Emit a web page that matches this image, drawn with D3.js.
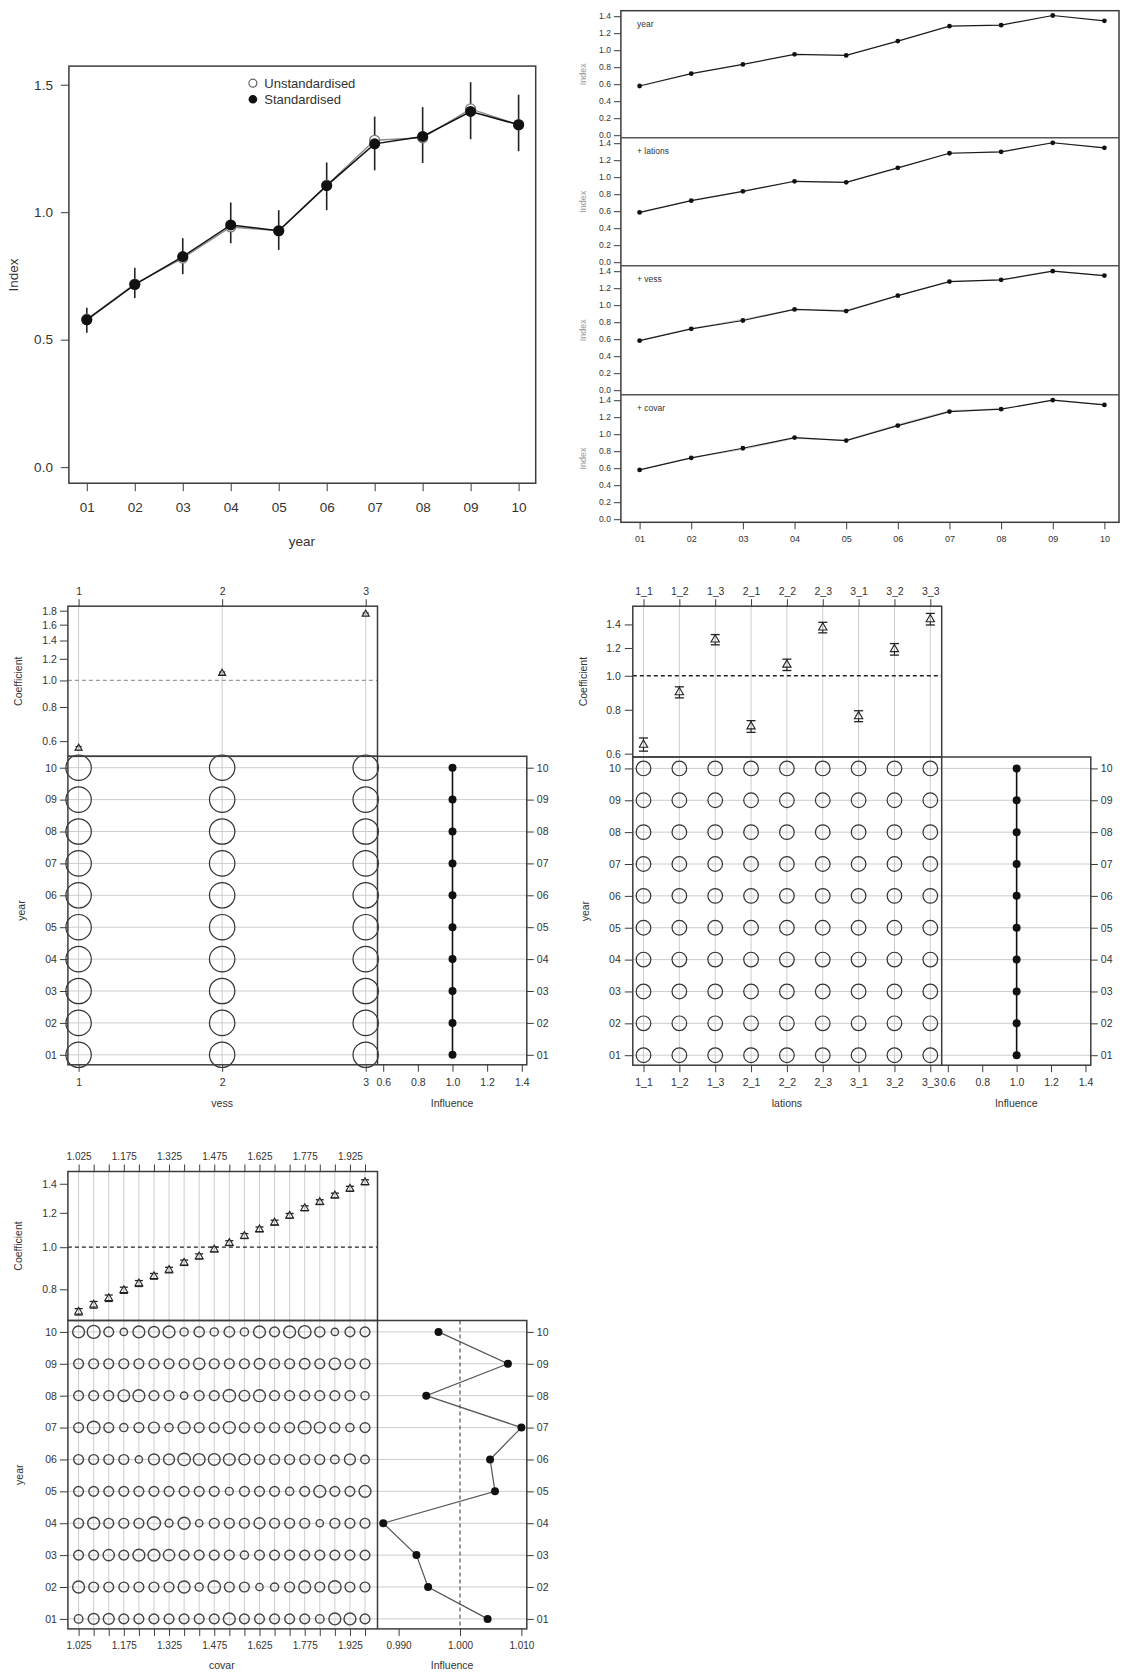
<!DOCTYPE html>
<html><head><meta charset="utf-8">
<script src="https://cdn.jsdelivr.net/npm/d3@7"></script>
<style>
body{margin:0;background:#fff}
svg{display:block}
</style>
</head><body><svg id="c" width="1122" height="1676"></svg>
<script>
// ---------------- DATA ----------------
const years = ["01","02","03","04","05","06","07","08","09","10"];
const indexStandardised   = [0.578,0.716,0.826,0.950,0.927,1.104,1.268,1.297,1.395,1.343];
const indexUnstandardised = [0.580,0.718,0.820,0.942,0.927,1.106,1.282,1.292,1.405,1.343];
const ciLower = [0.527,0.663,0.757,0.878,0.852,1.008,1.164,1.193,1.286,1.239];
const ciUpper = [0.625,0.782,0.898,1.038,1.008,1.195,1.375,1.412,1.510,1.461];
const mainTicks = [0,0.5,1.0,1.5];
const legendLabels = ["Unstandardised","Standardised"];

const stepLabels = ["year","+ lations","+ vess","+ covar"];
const stepYear    = [0.579,0.724,0.833,0.951,0.939,1.107,1.283,1.295,1.408,1.346];
const stepLations = [0.586,0.724,0.834,0.952,0.940,1.110,1.282,1.299,1.405,1.346];
const stepVess    = [0.583,0.722,0.820,0.950,0.931,1.112,1.278,1.298,1.400,1.349];
const stepCovar   = [0.580,0.721,0.835,0.960,0.925,1.101,1.266,1.294,1.400,1.345];
const stepTicks = [0,0.2,0.4,0.6,0.8,1.0,1.2,1.4];

const vessLevels = ["1","2","3"];
const vessCoef  = [0.565,1.062,1.748];
const vessLower = [0.558,1.052,1.730];
const vessUpper = [0.573,1.073,1.766];
const vessShare = [
  [33.3,33.3,33.3],[33.3,33.3,33.3],[33.3,33.3,33.3],[33.3,33.3,33.3],[33.3,33.3,33.3],
  [33.3,33.3,33.3],[33.3,33.3,33.3],[33.3,33.3,33.3],[33.3,33.3,33.3],[33.3,33.3,33.3]];
const vessInfluence = [1.0,1.0,1.0,1.0,1.0,1.0,1.0,1.0,1.0,1.0];
const vessCoefTicks = [0.6,0.8,1.0,1.2,1.4,1.6,1.8];

const lationsLevels = ["1_1","1_2","1_3","2_1","2_2","2_3","3_1","3_2","3_3"];
const lationsCoef  = [0.636,0.897,1.268,0.717,1.075,1.372,0.766,1.190,1.448];
const lationsLower = [0.610,0.865,1.225,0.690,1.035,1.325,0.740,1.145,1.395];
const lationsUpper = [0.665,0.930,1.310,0.745,1.115,1.420,0.795,1.235,1.505];
const lationsShare = [
  [11.1,11.1,11.1,11.1,11.1,11.1,11.1,11.1,11.1],[11.1,11.1,11.1,11.1,11.1,11.1,11.1,11.1,11.1],
  [11.1,11.1,11.1,11.1,11.1,11.1,11.1,11.1,11.1],[11.1,11.1,11.1,11.1,11.1,11.1,11.1,11.1,11.1],
  [11.1,11.1,11.1,11.1,11.1,11.1,11.1,11.1,11.1],[11.1,11.1,11.1,11.1,11.1,11.1,11.1,11.1,11.1],
  [11.1,11.1,11.1,11.1,11.1,11.1,11.1,11.1,11.1],[11.1,11.1,11.1,11.1,11.1,11.1,11.1,11.1,11.1],
  [11.1,11.1,11.1,11.1,11.1,11.1,11.1,11.1,11.1],[11.1,11.1,11.1,11.1,11.1,11.1,11.1,11.1,11.1]];
const lationsInfluence = [1.0,1.0,1.0,1.0,1.0,1.0,1.0,1.0,1.0,1.0];
const lationsCoefTicks = [0.6,0.8,1.0,1.2,1.4];

const covarLevels = ["1.025","1.075","1.125","1.175","1.225","1.275","1.325","1.375","1.425","1.475",
                     "1.525","1.575","1.625","1.675","1.725","1.775","1.825","1.875","1.925","1.975"];
const covarLabelled = ["1.025","1.175","1.325","1.475","1.625","1.775","1.925"];
const covarCoef  = [0.710,0.737,0.763,0.796,0.825,0.857,0.886,0.921,0.952,0.988,1.022,1.061,1.099,1.139,1.181,1.229,1.270,1.315,1.363,1.411];
const covarLower = [0.698,0.724,0.750,0.783,0.812,0.844,0.873,0.908,0.939,0.975,1.009,1.047,1.085,1.124,1.166,1.213,1.254,1.298,1.345,1.392];
const covarUpper = [0.722,0.750,0.776,0.809,0.838,0.870,0.899,0.934,0.965,1.001,1.035,1.075,1.113,1.154,1.196,1.245,1.286,1.332,1.381,1.430];
const covarShare = [
  [3.3,5.4,5.4,4.3,4.3,4.3,4.3,4.3,4.3,4.3,6.4,4.3,4.3,4.3,4.3,4.3,3.3,6.4,6.4,4.3],
  [6.4,4.3,4.3,4.3,4.3,4.3,4.3,6.4,3.0,7.0,4.3,4.3,2.4,3.0,4.3,6.4,4.3,7.0,4.3,4.3],
  [4.3,4.3,5.8,4.3,6.4,6.4,5.8,4.3,4.3,4.3,4.3,3.0,4.3,4.3,4.3,4.3,4.3,4.3,4.3,4.3],
  [4.3,6.4,4.3,4.3,4.3,7.6,2.8,6.4,2.4,4.3,4.3,4.3,5.4,4.3,4.3,4.3,2.4,4.3,4.3,4.3],
  [4.3,4.3,4.3,4.3,4.3,4.3,4.3,4.3,4.3,4.3,2.8,4.3,4.3,4.3,3.0,4.3,6.4,4.3,4.3,6.4],
  [4.3,4.3,4.3,4.3,2.4,5.4,5.4,7.0,6.2,6.2,6.2,5.4,4.3,4.3,4.3,4.3,4.3,3.3,5.4,3.3],
  [4.3,7.2,4.3,3.0,4.3,5.4,3.0,6.4,4.3,4.3,6.4,4.3,4.3,4.3,4.3,7.2,5.4,4.3,3.0,4.3],
  [4.3,4.3,4.3,6.0,6.4,4.3,4.3,2.4,4.3,4.3,7.0,5.0,6.4,4.3,4.3,4.3,4.3,4.3,4.3,3.0],
  [4.3,4.3,4.3,4.3,4.3,4.3,4.3,4.3,5.8,4.3,4.3,4.3,5.0,4.3,4.3,5.0,4.3,5.8,4.3,4.3],
  [6.4,7.6,4.3,2.4,6.4,5.4,6.4,3.0,4.8,3.0,5.0,3.0,6.4,4.3,6.4,7.2,4.6,2.4,4.3,4.3]];
const covarInfluence = [1.0045,0.9948,0.9929,0.9875,1.0057,1.0049,1.0100,0.9945,1.0078,0.9965];
const covarCoefTicks = [0.8,1.0,1.2,1.4];
const unitInfluenceTicks = [0.6,0.8,1.0,1.2,1.4];
const covarInfluenceTicks = [0.990,1.000,1.010];

// ---------------- DRAWING ----------------
const FONT = '"Liberation Sans", Arial, Helvetica, sans-serif';
const INK = "#333";
const BOX = "#3c3c3c";
const GRID = "#cdcdcd";
const svg = d3.select("#c");

function styleAxis(g, fs, col){
  g.select(".domain").remove();
  g.selectAll(".tick line").attr("stroke", BOX).attr("stroke-width", 1);
  g.selectAll(".tick text").attr("fill", col || INK).attr("font-size", fs).attr("font-family", FONT);
  return g;
}
function label(txt, x, y, fs, opts = {}){
  const t = svg.append("text").text(txt)
    .attr("font-family", FONT).attr("font-size", fs).attr("fill", opts.fill || INK)
    .attr("text-anchor", opts.anchor || "middle");
  if (opts.rotate) t.attr("transform", `translate(${x},${y}) rotate(-90)`).attr("dy", "0.35em");
  else t.attr("x", x).attr("y", y).attr("dy", "0.35em");
  return t;
}
function rectBox(x0, y0, x1, y1, w){
  svg.append("rect").attr("x", x0).attr("y", y0).attr("width", x1 - x0).attr("height", y1 - y0)
    .attr("fill", "none").attr("stroke", BOX).attr("stroke-width", w || 1.5);
}

// ===== Panel A : standardised index =====
(function(){
  const L = 68.9, R = 535.7, T = 66.1, B = 483.2;
  const x = d3.scalePoint().domain(years).range([86.8, 518.6]);
  const y = d3.scaleLinear().domain([-0.063, 1.573]).range([B, T]);
  const g = svg.append("g");
  g.selectAll("line.ci").data(years).join("line")
    .attr("x1", d => x(d)).attr("x2", d => x(d))
    .attr("y1", (d,i) => y(ciLower[i])).attr("y2", (d,i) => y(ciUpper[i]))
    .attr("stroke", "#222").attr("stroke-width", 1.6);
  const line = d3.line().x((d,i) => x(years[i])).y(d => y(d));
  g.append("path").datum(indexUnstandardised).attr("d", line)
    .attr("fill", "none").attr("stroke", "#8c8c8c").attr("stroke-width", 1.4);
  g.selectAll("circle.u").data(indexUnstandardised).join("circle")
    .attr("cx", (d,i) => x(years[i])).attr("cy", d => y(d)).attr("r", 5)
    .attr("fill", "#fff").attr("stroke", "#7a7a7a").attr("stroke-width", 1.3);
  g.append("path").datum(indexStandardised).attr("d", line)
    .attr("fill", "none").attr("stroke", "#111").attr("stroke-width", 1.5);
  g.selectAll("circle.s").data(indexStandardised).join("circle")
    .attr("cx", (d,i) => x(years[i])).attr("cy", d => y(d)).attr("r", 5.5)
    .attr("fill", "#111");
  rectBox(L, T, R, B, 1.5);
  styleAxis(svg.append("g").attr("transform", `translate(${L},0)`)
    .call(d3.axisLeft(y).tickValues(mainTicks).tickFormat(d3.format(".1f")).tickSize(8).tickPadding(8)), 13.5);
  styleAxis(svg.append("g").attr("transform", `translate(0,${B})`)
    .call(d3.axisBottom(x).tickSize(8).tickPadding(11)), 13.5);
  label("year", 301.8, 541, 13.5);
  label("Index", 13.6, 275, 13.5, {rotate: true});
  svg.append("circle").attr("cx", 252.9).attr("cy", 83.2).attr("r", 4).attr("fill", "#fff").attr("stroke", "#666").attr("stroke-width", 1.2);
  svg.append("circle").attr("cx", 252.9).attr("cy", 99.3).attr("r", 4.3).attr("fill", "#111");
  label(legendLabels[0], 264.3, 83.2, 13, {anchor: "start"});
  label(legendLabels[1], 264.3, 99.3, 13, {anchor: "start"});
})();

// ===== Panel B : step plot =====
(function(){
  const L = 620.9, R = 1119;
  const tops = [10.7, 137.7, 265.7, 394.7];
  const bottoms = [137.7, 265.7, 394.7, 522.3];
  const series = [stepYear, stepLations, stepVess, stepCovar];
  const x = d3.scalePoint().domain(years).range([639.6, 1104.4]);
  series.forEach((s, k) => {
    const t = tops[k];
    const y = d3.scaleLinear().domain([0, 1.4]).range([t + 124.5, t + 5.5]);
    const line = d3.line().x((d,i) => x(years[i])).y(d => y(d));
    if (k > 0) {
      svg.append("path").datum(series[k-1]).attr("d", line)
        .attr("fill", "none").attr("stroke", "#d8d8d8").attr("stroke-width", 1.2);
    }
    svg.append("path").datum(s).attr("d", line)
      .attr("fill", "none").attr("stroke", "#1a1a1a").attr("stroke-width", 1.2);
    svg.selectAll(null).data(s).join("circle")
      .attr("cx", (d,i) => x(years[i])).attr("cy", d => y(d)).attr("r", 2.4).attr("fill", "#111");
    styleAxis(svg.append("g").attr("transform", `translate(${L},0)`)
      .call(d3.axisLeft(y).tickValues(stepTicks).tickFormat(d3.format(".1f")).tickSize(7).tickPadding(3)), 8.5);
    label("Index", 583.3, (t + bottoms[k]) / 2, 9, {rotate: true, fill: "#999"});
    label(stepLabels[k], 637, t + 13, 8.5, {anchor: "start"});
  });
  rectBox(L, tops[0], R, bottoms[3], 1.5);
  [1,2,3].forEach(k => svg.append("line").attr("x1", L).attr("x2", R)
    .attr("y1", tops[k]).attr("y2", tops[k]).attr("stroke", "#555").attr("stroke-width", 1.4));
  styleAxis(svg.append("g").attr("transform", `translate(0,${bottoms[3]})`)
    .call(d3.axisBottom(x).tickSize(7).tickPadding(6)), 9);
})();

// ===== CDI panels =====
function cdi(cfg){
  const x = d3.scalePoint().domain(cfg.levels).range(cfg.xRange);
  const yc = d3.scaleLog().domain(cfg.coefDomain).range([cfg.split, cfg.top]);
  const yr = d3.scalePoint().domain(years).range([cfg.bottom - 10, cfg.split + 11.4]);
  const xi = d3.scaleLinear().domain(cfg.inflDomain).range([cfg.mid, cfg.right]);
  const rs = d3.scaleSqrt().domain([0, 100]).range([0, cfg.rMax]);
  const g = svg.append("g");

  g.selectAll("line.v").data(cfg.levels).join("line")
    .attr("x1", d => x(d)).attr("x2", d => x(d)).attr("y1", cfg.top).attr("y2", cfg.bottom)
    .attr("stroke", GRID).attr("stroke-width", 1);
  g.selectAll("line.h").data(years).join("line")
    .attr("x1", cfg.left).attr("x2", cfg.right).attr("y1", d => yr(d)).attr("y2", d => yr(d))
    .attr("stroke", GRID).attr("stroke-width", 1);
  g.append("line").attr("x1", cfg.left).attr("x2", cfg.mid).attr("y1", yc(1)).attr("y2", yc(1))
    .attr("stroke", cfg.refColor).attr("stroke-width", 1.3).attr("stroke-dasharray", "4,3");

  cfg.levels.forEach((lv, i) => {
    const cx = x(lv);
    g.append("line").attr("x1", cx).attr("x2", cx).attr("y1", yc(cfg.lower[i])).attr("y2", yc(cfg.upper[i]))
      .attr("stroke", "#222").attr("stroke-width", 1.1);
    [cfg.lower[i], cfg.upper[i]].forEach(v => g.append("line")
      .attr("x1", cx - cfg.cap).attr("x2", cx + cfg.cap).attr("y1", yc(v)).attr("y2", yc(v))
      .attr("stroke", "#222").attr("stroke-width", 1.3));
    g.append("path").attr("d", d3.symbol(d3.symbolTriangle, cfg.tri)())
      .attr("transform", `translate(${cx},${yc(cfg.coef[i])})`)
      .attr("fill", "#fff").attr("fill-opacity", 0.6).attr("stroke", "#222").attr("stroke-width", 1.1);
  });

  cfg.share.forEach((row, yi) => {
    row.forEach((p, li) => {
      g.append("circle").attr("cx", x(cfg.levels[li])).attr("cy", yr(years[yi])).attr("r", rs(p))
        .attr("fill", "none").attr("stroke", cfg.bubbleStroke).attr("stroke-width", cfg.bubbleWidth);
    });
  });

  g.append("line").attr("x1", xi(1)).attr("x2", xi(1)).attr("y1", cfg.split).attr("y2", cfg.bottom)
    .attr("stroke", cfg.inflRefColor).attr("stroke-width", 1.1).attr("stroke-dasharray", cfg.inflRefDash);
  const iline = d3.line().x(d => xi(d)).y((d,i) => yr(years[i]));
  g.append("path").datum(cfg.influence).attr("d", iline)
    .attr("fill", "none").attr("stroke", cfg.inflLineColor).attr("stroke-width", cfg.inflLineWidth);
  g.selectAll("circle.inf").data(cfg.influence).join("circle")
    .attr("cx", d => xi(d)).attr("cy", (d,i) => yr(years[i])).attr("r", 4).attr("fill", "#111");

  rectBox(cfg.left, cfg.top, cfg.mid, cfg.split, 1.5);
  rectBox(cfg.left, cfg.split, cfg.right, cfg.bottom, 1.5);
  svg.append("line").attr("x1", cfg.mid).attr("x2", cfg.mid).attr("y1", cfg.split).attr("y2", cfg.bottom)
    .attr("stroke", BOX).attr("stroke-width", 1.5);

  const fmtCat = d => (cfg.labelled ? (cfg.labelled.includes(d) ? d : "") : d);
  styleAxis(svg.append("g").attr("transform", `translate(0,${cfg.top})`)
    .call(d3.axisTop(x).tickSize(7).tickPadding(4.5).tickFormat(fmtCat)), cfg.catFont);
  styleAxis(svg.append("g").attr("transform", `translate(0,${cfg.bottom})`)
    .call(d3.axisBottom(x).tickSize(7).tickPadding(6.5).tickFormat(fmtCat)), cfg.catFont);
  styleAxis(svg.append("g").attr("transform", `translate(${cfg.left},0)`)
    .call(d3.axisLeft(yc).tickValues(cfg.coefTicks).tickFormat(d3.format(".1f")).tickSize(8).tickPadding(cfg.leftPad)), 10.5);
  styleAxis(svg.append("g").attr("transform", `translate(${cfg.left},0)`)
    .call(d3.axisLeft(yr).tickSize(8).tickPadding(cfg.leftPad)), 10.5);
  styleAxis(svg.append("g").attr("transform", `translate(${cfg.right},0)`)
    .call(d3.axisRight(yr).tickSize(7).tickPadding(3)), 10.5);
  styleAxis(svg.append("g").attr("transform", `translate(0,${cfg.bottom})`)
    .call(d3.axisBottom(xi).tickValues(cfg.inflTicks).tickFormat(d3.format(cfg.inflFmt)).tickSize(7).tickPadding(6.5)), cfg.catFont);

  label("Coefficient", cfg.coefLabelX, (cfg.top + cfg.split) / 2, 10.5, {rotate: true});
  label("year", cfg.yearLabelX, (cfg.split + cfg.bottom) / 2, 10.5, {rotate: true});
  label(cfg.name, (cfg.xRange[0] + cfg.xRange[1]) / 2, cfg.titleY, 10.5);
  label("Influence", (cfg.mid + cfg.right) / 2, cfg.titleY, 10.5);
}

cdi({
  name: "vess", levels: vessLevels, coef: vessCoef, lower: vessLower, upper: vessUpper,
  share: vessShare, influence: vessInfluence,
  left: 67.9, mid: 377.5, right: 526.8, top: 606.2, split: 756.3, bottom: 1064.8,
  xRange: [78.6, 365.7], coefDomain: [0.528, 1.869], coefTicks: vessCoefTicks,
  inflDomain: [0.567, 1.429], inflTicks: unitInfluenceTicks, inflFmt: ".1f",
  refColor: "#9a9a9a", inflRefColor: "none", inflRefDash: null,
  inflLineColor: "#111", inflLineWidth: 1.6, cap: 3, tri: 22, catFont: 10.5,
  rMax: 22, bubbleStroke: "#333", bubbleWidth: 1.2,
  leftPad: 3, coefLabelX: 17.9, yearLabelX: 21.4, titleY: 1103
});

cdi({
  name: "lations", levels: lationsLevels, coef: lationsCoef, lower: lationsLower, upper: lationsUpper,
  share: lationsShare, influence: lationsInfluence,
  left: 632.8, mid: 941.7, right: 1090.8, top: 606.2, split: 757, bottom: 1065.2,
  xRange: [643.5, 930.3], coefDomain: [0.587, 1.578], coefTicks: lationsCoefTicks,
  inflDomain: [0.5645, 1.431], inflTicks: unitInfluenceTicks, inflFmt: ".1f",
  refColor: "#222", inflRefColor: "none", inflRefDash: null,
  inflLineColor: "#111", inflLineWidth: 1.6, cap: 4.5, tri: 30, catFont: 10.5,
  rMax: 22, bubbleStroke: "#333", bubbleWidth: 1.2,
  leftPad: 4, coefLabelX: 583.3, yearLabelX: 585.1, titleY: 1103
});

cdi({
  name: "covar", levels: covarLevels, labelled: covarLabelled, coef: covarCoef, lower: covarLower, upper: covarUpper,
  share: covarShare, influence: covarInfluence,
  left: 67.9, mid: 377.5, right: 526.8, top: 1171.5, split: 1320.5, bottom: 1628.9,
  xRange: [78.6, 365.0], coefDomain: [0.678, 1.494], coefTicks: covarCoefTicks,
  inflDomain: [0.98656, 1.01088], inflTicks: covarInfluenceTicks, inflFmt: ".3f",
  refColor: "#222", inflRefColor: "#444", inflRefDash: "4,3",
  inflLineColor: "#555", inflLineWidth: 1.2, cap: 4, tri: 26, catFont: 10,
  rMax: 23.5, bubbleStroke: "#444", bubbleWidth: 1.4,
  leftPad: 3, coefLabelX: 17.9, yearLabelX: 19.6, titleY: 1665
});
</script>
</body></html>
